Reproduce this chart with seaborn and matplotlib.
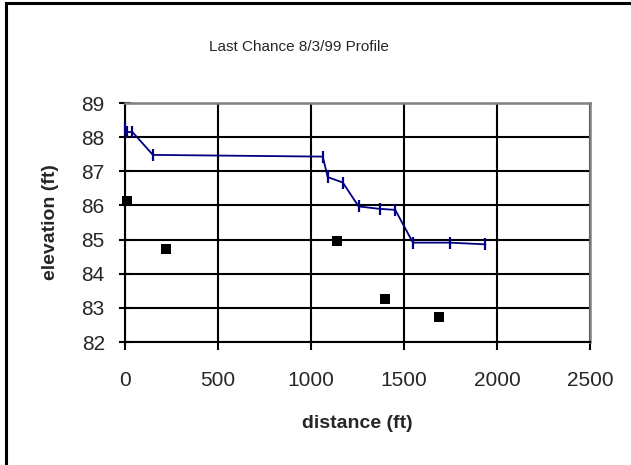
import matplotlib
matplotlib.use("Agg")
import matplotlib.pyplot as plt
from matplotlib.patches import Rectangle
import pandas as pd
import seaborn as sns

# water surface profile (line with tick markers)
perfil_dist = [0, 12, 40, 150, 1063, 1090, 1171, 1256, 1369, 1453, 1548, 1746, 1938]
perfil_elev = [88.28, 88.15, 88.15, 87.48, 87.43, 86.83, 86.67, 85.97, 85.9, 85.87, 84.91, 84.91, 84.86]

# square points
puntos_dist = [9, 223, 1139, 1399, 1690]
puntos_elev = [86.14, 84.73, 84.96, 83.26, 82.73]

titulo = "Last Chance 8/3/99 Profile"
x_ticks = [0, 500, 1000, 1500, 2000, 2500]
y_ticks = [82, 83, 84, 85, 86, 87, 88, 89]

sns.set_style("white")
plt.rcParams["font.family"] = ["Liberation Sans", "DejaVu Sans"]

df_perfil = pd.DataFrame({"distancia": perfil_dist, "elevacion": perfil_elev})
df_puntos = pd.DataFrame({"distancia": puntos_dist, "elevacion": puntos_elev})

fig = plt.figure(figsize=(6.31, 4.65), dpi=100)
fig.patches.append(Rectangle((6 / 631, -0.1), 1.2, 1.1 - 3 / 465, transform=fig.transFigure,
                             fill=False, edgecolor="black", linewidth=2.2))
ax = fig.add_axes([125 / 631, 1 - 342 / 465, (590 - 125) / 631, (342 - 103) / 465])

sns.lineplot(data=df_perfil, x="distancia", y="elevacion", sort=False, ax=ax,
             color="#000080", linewidth=1.3, marker="|", markersize=9,
             markeredgewidth=1.6, markeredgecolor="#000080", clip_on=False, zorder=4)
sns.scatterplot(data=df_puntos, x="distancia", y="elevacion", ax=ax, marker="s",
                color="black", s=50, edgecolor="black", linewidth=0, zorder=5,
                clip_on=False)

ax.set_xlim(0, 2500)
ax.set_ylim(82, 89)
ax.set_xticks(x_ticks)
ax.set_yticks(y_ticks)
ax.grid(True, color="black", linewidth=1.5)
ax.set_axisbelow(True)
for lado in ("top", "right"):
    ax.spines[lado].set_color("#808080")
    ax.spines[lado].set_linewidth(1.8)
for lado in ("left", "bottom"):
    ax.spines[lado].set_color("black")
    ax.spines[lado].set_linewidth(1.5)

ax.tick_params(axis="x", direction="out", length=6, width=1.5, color="black",
               labelsize=15, pad=15, bottom=True)
ax.tick_params(axis="y", direction="inout", length=9, width=1.5, color="black",
               labelsize=15, pad=10, left=True)
ax.set_xlabel("distance (ft)", fontsize=14, fontweight="bold", labelpad=18)
ax.set_ylabel("elevation (ft)", fontsize=14, fontweight="bold", labelpad=16)

fig.text(299 / 631, 1 - 47 / 465, titulo, ha="center", va="center", fontsize=11)

fig.savefig("out.png", dpi=100)
